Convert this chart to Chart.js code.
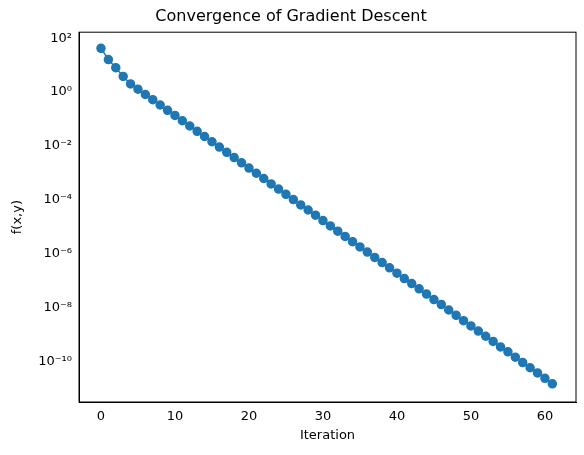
<!DOCTYPE html>
<html>
<head>
<meta charset="utf-8">
<script src="https://cdn.jsdelivr.net/npm/chart.js@4"></script>
<style>
  html, body { margin: 0; padding: 0; background: #fff; }
  #wrap { width: 584px; height: 455px; }
</style>
</head>
<body>
<div id="wrap"><canvas id="c" width="584" height="455"></canvas></div>
<script>
/* --- data --- */
var iterations = [];
for (var i = 0; i <= 61; i++) iterations.push(i);

var fValues = [
  42, 16, 8, 3.8, 2.0, 1.27, 0.81, 0.52, 0.33, 0.21,
  0.135, 0.086, 0.055, 0.035, 0.0224, 0.0143, 0.0091, 0.0058, 0.0037, 0.00237,
  0.00151, 9.7e-4, 6.2e-4, 3.9e-4, 2.5e-4, 1.6e-4, 1.02e-4, 6.5e-5, 4.2e-5, 2.7e-5,
  1.7e-5, 1.08e-5, 6.9e-6, 4.4e-6, 2.8e-6, 1.8e-6, 1.15e-6, 7.3e-7, 4.7e-7, 3.0e-7,
  1.9e-7, 1.2e-7, 7.8e-8, 5.0e-8, 3.2e-8, 2.0e-8, 1.3e-8, 8.2e-9, 5.2e-9, 3.3e-9,
  2.1e-9, 1.36e-9, 8.7e-10, 5.6e-10, 3.5e-10, 2.3e-10, 1.45e-10, 9.2e-11, 5.9e-11, 3.8e-11,
  2.4e-11, 1.5e-11
];

var xTicks = [0, 10, 20, 30, 40, 50, 60];
var yTickPowers = [2, 0, -2, -4, -6, -8, -10];

/* --- helpers --- */
var SUP = { '-': '⁻', '0': '⁰', '1': '¹', '2': '²', '3': '³', '4': '⁴', '5': '⁵', '6': '⁶', '7': '⁷', '8': '⁸', '9': '⁹' };
function supText(n) {
  return String(n).split('').map(function(ch) { return SUP[ch]; }).join('');
}

var points = iterations.map(function(x, k) { return { x: x, y: fValues[k] }; });
var FONT = { family: 'DejaVu Sans', size: 13 };

new Chart(document.getElementById('c'), {
  type: 'scatter',
  data: {
    datasets: [{
      data: points,
      showLine: true,
      borderColor: '#1f77b4',
      backgroundColor: '#1f77b4',
      borderWidth: 1.5,
      pointRadius: 4,
      pointHoverRadius: 4
    }]
  },
  options: {
    responsive: false,
    animation: false,
    layout: { padding: { top: 0, right: 8, bottom: 8, left: 6 } },
    plugins: {
      legend: { display: false },
      tooltip: { enabled: false },
      title: {
        display: true,
        text: 'Convergence of Gradient Descent',
        color: '#000',
        font: { family: 'DejaVu Sans', size: 16, weight: 'normal' },
        padding: { top: 7, bottom: 6 }
      }
    },
    scales: {
      x: {
        type: 'linear',
        min: -2.97,
        max: 64.2,
        afterBuildTicks: function(s) { s.ticks = xTicks.map(function(v) { return { value: v }; }); },
        afterFit: function(s) { s.height = 45; },
        grid: { display: false, drawTicks: true, tickLength: 4, color: '#000' },
        border: { display: true, color: '#000' },
        ticks: { color: '#000', font: FONT, padding: 3 },
        title: { display: true, text: 'Iteration', color: '#000', font: FONT, padding: { top: 2 } }
      },
      y: {
        type: 'logarithmic',
        min: Math.pow(10, -11.50),
        max: Math.pow(10, 2.22),
        afterBuildTicks: function(s) { s.ticks = yTickPowers.map(function(p) { return { value: Math.pow(10, p) }; }); },
        afterFit: function(s) { s.width = 73; },
        grid: { display: false, drawTicks: true, tickLength: 4, color: '#000' },
        border: { display: true, color: '#000' },
        ticks: {
          color: '#000', font: { family: 'DejaVu Sans', size: 13 }, padding: 3,
          callback: function(v) { return '10' + supText(Math.round(Math.log10(v))); }
        },
        title: { display: true, text: 'f(x,y)', color: '#000', font: FONT, padding: { bottom: 4 } }
      }
    }
  },
  plugins: [{
    id: 'frame',
    afterDraw: function(chart) {
      var a = chart.chartArea, ctx = chart.ctx;
      ctx.save();
      ctx.strokeStyle = '#000';
      ctx.lineWidth = 1;
      ctx.strokeRect(a.left, a.top, a.right - a.left, a.bottom - a.top);
      ctx.restore();
    }
  }]
});
</script>
</body>
</html>
